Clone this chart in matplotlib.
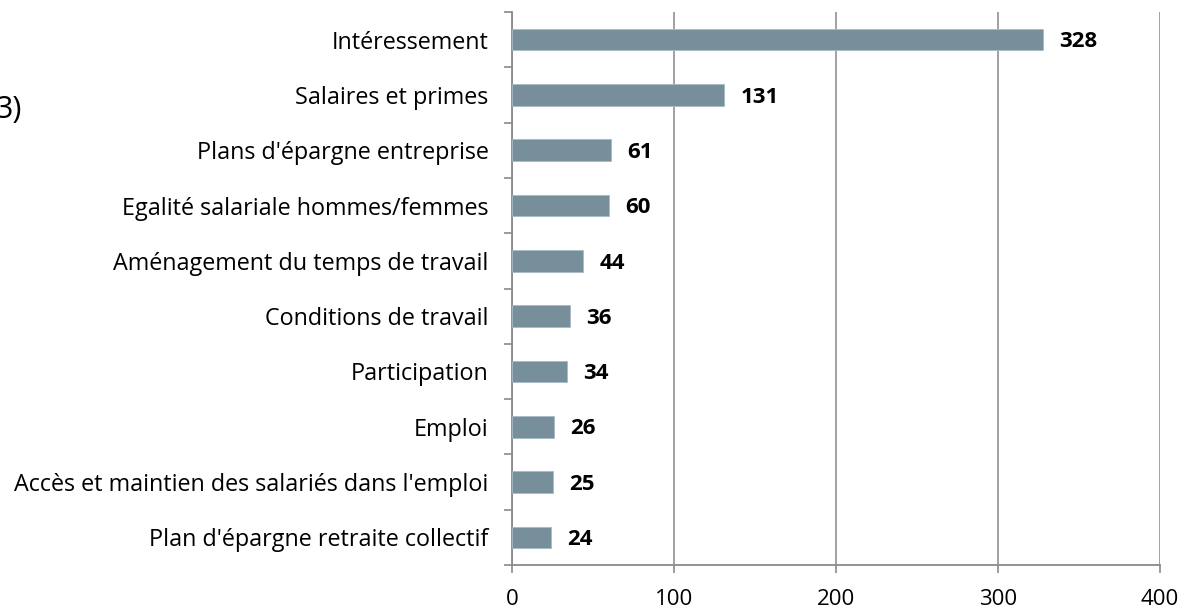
import numpy as np
import matplotlib
matplotlib.use("Agg")
import matplotlib.pyplot as plt

plt.rcParams['font.family'] = ['Open Sans', 'DejaVu Sans']

categories = ["Intéressement", "Salaires et primes", "Plans d'épargne entreprise",
              "Egalité salariale hommes/femmes", "Aménagement du temps de travail",
              "Conditions de travail", "Participation", "Emploi",
              "Accès et maintien des salariés dans l'emploi",
              "Plan d'épargne retraite collectif"]
values = [328, 131, 61, 60, 44, 36, 34, 26, 25, 24]
xticks = [0, 100, 200, 300, 400]

fig = plt.figure(figsize=(11.82, 6.08), dpi=100)
ax = fig.add_axes([512/1182, 1-565/608, (1160-512)/1182, (565-12)/608])

ypos = np.arange(len(categories))[::-1]
ax.barh(ypos, values, height=0.39, color='#778e9b', edgecolor='#a9bac4', linewidth=0.6, zorder=3)

#value labels
for y, v in zip(ypos, values):
    ax.text(v + 10, y - 0.04, str(v), va='center', ha='left', fontsize=16, fontweight='bold', zorder=4)

ax.set_xlim(0, 400)
ax.set_ylim(-0.5, len(categories) - 0.5)
ax.set_xticks(xticks)
ax.set_xticklabels([str(t) for t in xticks], fontsize=16)
ax.set_yticks(ypos)
ax.set_yticklabels(categories, fontsize=16.8)
ax.tick_params(axis='y', length=0, pad=17)
ax.set_yticks(np.arange(-0.5, len(categories)), minor=True)
ax.tick_params(axis='y', which='minor', length=6, color='#8a8a8a', width=1.2)
ax.tick_params(axis='x', length=6, color='#8a8a8a', width=1.2, pad=11)

ax.xaxis.grid(True, color='#9a9a9a', linewidth=1.3, zorder=0)
ax.set_axisbelow(True)
for s in ['top', 'right']:
    ax.spines[s].set_visible(False)
for s in ['left', 'bottom']:
    ax.spines[s].set_color('#8a8a8a')
    ax.spines[s].set_linewidth(1.3)

fig.text(22/1182, 1-110/608, "3)", fontsize=22, va='center', ha='right')

fig.savefig("out.png", dpi=100)
